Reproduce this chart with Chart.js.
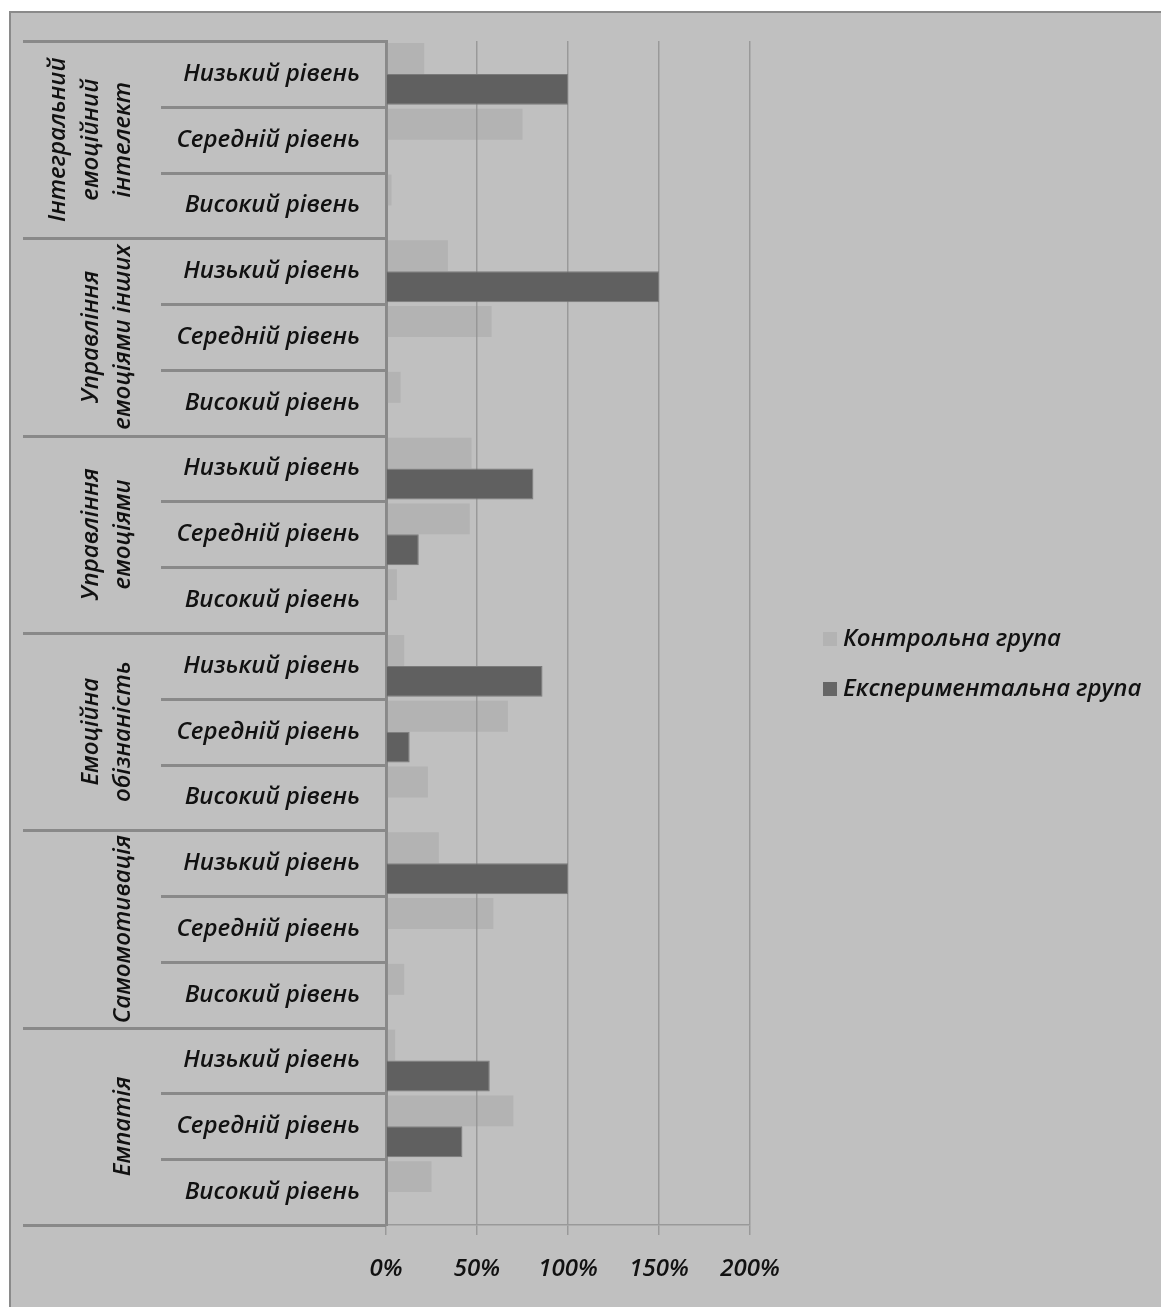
<!DOCTYPE html>
<html>
<head>
<meta charset="utf-8">
<script src="https://cdn.jsdelivr.net/npm/chart.js@4.4.1/dist/chart.umd.min.js"></script>
<style>
  html, body { margin: 0; padding: 0; background: #fff; }
  #frame {
    position: absolute; left: 9px; top: 11px; width: 1152px; height: 1296px;
    background: #c0c0c0; border-left: 2px solid #8a8a8a; border-top: 2px solid #8a8a8a;
    box-sizing: border-box;
  }
  #chart { position: absolute; left: 0; top: 0; }
</style>
</head>
<body>
<div id="frame"></div>
<canvas id="chart" width="1161" height="1307"></canvas>
<script>
// group captions (one entry per line of the rotated caption)
const groups = [
    ["Інтегральний", "емоційний", "інтелект"],
    ["Управління", "емоціями інших"],
    ["Управління", "емоціями"],
    ["Емоційна", "обізнаність"],
    ["Самомотивація"],
    ["Емпатія"]
];
const levels = ["Низький рівень", "Середній рівень", "Високий рівень"];

const seriesNames = ["Контрольна група", "Експериментальна група"];
const control = [21, 75, 3, 34, 58, 8, 47, 46, 6, 10, 67, 23, 29, 59, 10, 5, 70, 25];
const experimental = [100, 0, 0, 150, 0, 0, 81, 18, 0, 86, 13, 0, 100, 0, 0, 57, 42, 0];
const xTicks = [0, 50, 100, 150, 200];

const labels = groups.flatMap(() => levels);
const colors = ["rgba(150,150,150,0.3)", "#606060"];
const textFont = { family: "'Open Sans'", style: "italic", weight: "600", size: 24 };
const canvasFont = "italic 600 24px 'Open Sans'";

// separators, rotated group captions and the legend
const axisDecor = {
    id: "axisDecor",
    afterDraw(chart) {
        const { ctx, chartArea } = chart;
        const y = chart.scales.y;
        const axisX = chartArea.left;
        ctx.save();

        ctx.strokeStyle = "#898989";
        ctx.lineWidth = 3;
        for (let k = 0; k <= labels.length; k++) {
            const py = Math.round(y.getPixelForValue(k - 0.5)) + 0.5;
            const x0 = k % levels.length === 0 ? 23 : 161;
            ctx.beginPath();
            ctx.moveTo(x0, py);
            ctx.lineTo(axisX, py);
            ctx.stroke();
        }

        ctx.fillStyle = "#111";
        ctx.font = canvasFont;
        ctx.textAlign = "center";
        ctx.textBaseline = "alphabetic";
        groups.forEach((lines, g) => {
            const top = y.getPixelForValue(g * levels.length - 0.5);
            const bottom = y.getPixelForValue((g + 1) * levels.length - 0.5);
            ctx.save();
            ctx.translate(0, (top + bottom) / 2);
            ctx.rotate(-Math.PI / 2);
            lines.forEach((line, i) => {
                ctx.fillText(line, 0, 130 - (lines.length - 1 - i) * 32.5);
            });
            ctx.restore();
        });

        // legend
        ctx.textAlign = "left";
        ctx.textBaseline = "middle";
        chart.data.datasets.forEach((ds, i) => {
            const cy = 639 + i * 50;
            ctx.fillStyle = i === 0 ? "#b3b3b3" : "#666";
            ctx.fillRect(823, cy - 7, 14, 14);
            ctx.fillStyle = "#111";
            ctx.fillText(ds.label, 843, cy);
        });

        ctx.restore();
    }
};

new Chart(document.getElementById("chart"), {
    type: "bar",
    data: {
        labels: labels,
        datasets: [{
            label: seriesNames[0],
            data: control,
            backgroundColor: colors[0],
            borderWidth: 0
        }, {
            label: seriesNames[1],
            data: experimental,
            backgroundColor: colors[1],
            borderColor: "#7a7a7a",
            borderWidth: 1
        }]
    },
    options: {
        indexAxis: "y",
        responsive: false,
        animation: false,
        categoryPercentage: 0.94,
        barPercentage: 1,
        layout: { padding: { left: 0, top: 41, right: 411, bottom: 0 } },
        plugins: { legend: { display: false }, tooltip: { enabled: false } },
        scales: {
            x: {
                min: 0,
                max: 200,
                afterBuildTicks: s => { s.ticks = xTicks.map(v => ({ value: v })); },
                ticks: { callback: v => v + "%", color: "#111", font: textFont, padding: 20, maxRotation: 0 },
                grid: { color: "#999", lineWidth: 1.5, tickLength: 10 },
                border: { color: "#999", width: 1.5 },
                afterFit: s => { s.height = 82; }
            },
            y: {
                ticks: { color: "#111", font: textFont, padding: 26 },
                grid: { display: false, drawTicks: false },
                border: { color: "#898989", width: 3 },
                afterFit: s => { s.width = 386; }
            }
        }
    },
    plugins: [axisDecor]
});
</script>
</body>
</html>
